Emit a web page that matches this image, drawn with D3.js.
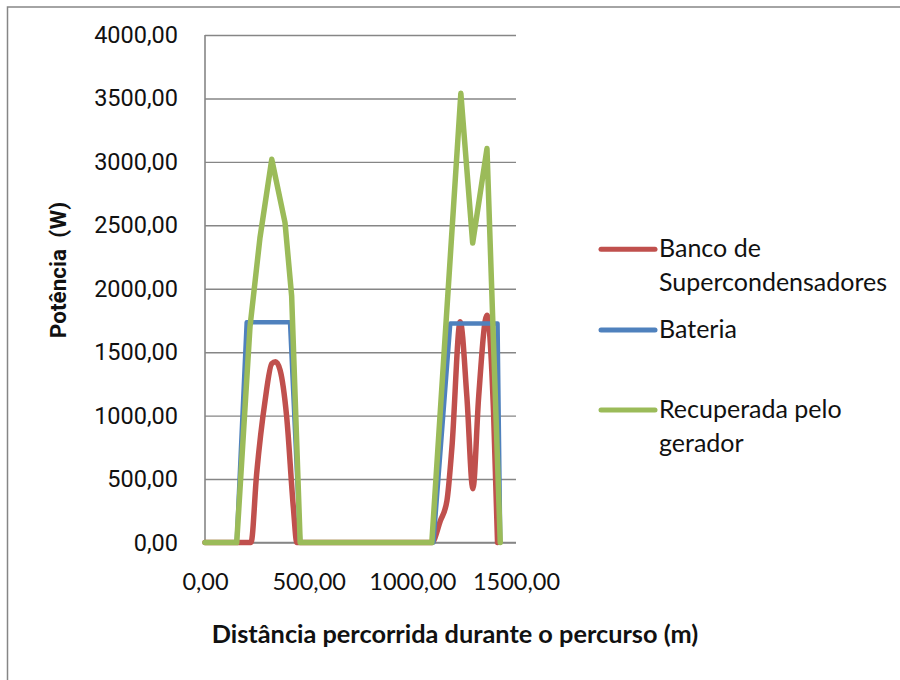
<!DOCTYPE html>
<html>
<head>
<meta charset="utf-8">
<script src="https://cdn.jsdelivr.net/npm/d3@7"></script>
<style>
  html, body { margin: 0; padding: 0; background: #fff; }
  svg { display: block; }
</style>
</head>
<body>
<svg id="chart" width="900" height="680"></svg>
<script>
// ---- data -------------------------------------------------------------
// Recuperada pelo gerador
const distGreen  = [0, 153, 217, 265, 322, 386, 418, 459, 1094, 1234, 1291, 1360, 1424];
const powerGreen = [0, 0, 1700, 2400, 3020, 2520, 1940, 0, 0, 3540, 2360, 3105, 0];

// Bateria
const distBlue  = [0, 153, 201, 410, 459, 1102, 1183, 1411, 1424];
const powerBlue = [0, 0, 1736, 1736, 0, 0, 1726, 1726, 0];

// Banco de Supercondensadores
const distRed  = [0, 153, 222, 249, 290, 322, 340, 362, 394, 426, 443, 1094, 1135, 1167, 1191, 1231, 1263, 1292, 1320, 1360, 1392, 1411];
const powerRed = [0, 0, 0, 540, 1120, 1410, 1425, 1360, 990, 280, 0, 0, 170, 330, 750, 1740, 1150, 424, 1150, 1792, 1016, 0];

const seriesNames  = ["Banco de Supercondensadores", "Bateria", "Recuperada pelo gerador"];
const legendLines  = [["Banco de", "Supercondensadores"], ["Bateria"], ["Recuperada pelo", "gerador"]];
const seriesColors = ["#C0504D", "#4F81BD", "#9BBB59"];

const xTicks = [0, 500, 1000, 1500];
const yTicks = [0, 500, 1000, 1500, 2000, 2500, 3000, 3500, 4000];

const xTitle = "Distância percorrida durante o percurso (m)";
const yTitle = "Potência  (W)";

// ---- layout -----------------------------------------------------------
const svg = d3.select("#chart");
const plot = { left: 205, right: 516, top: 35, bottom: 542.5 };

const x = d3.scaleLinear().domain([0, 1500]).range([plot.left, plot.right]);
const y = d3.scaleLinear().domain([0, 4000]).range([plot.bottom, plot.top]);

const ptLocale = d3.formatLocale({ decimal: ",", thousands: "", grouping: [3], currency: ["", ""] });
const fmt = ptLocale.format(".2f");

const gridColor = "#868686";

// outer frame of the chart area
svg.append("rect")
  .attr("x", 7.5).attr("y", 7)
  .attr("width", 1000).attr("height", 1000)
  .attr("fill", "none")
  .attr("stroke", gridColor)
  .attr("stroke-width", 1.5);

// horizontal gridlines + y tick labels
const yAxis = d3.axisLeft(y)
  .tickValues(yTicks)
  .tickSize(-(plot.right - plot.left))
  .tickPadding(27)
  .tickFormat(fmt);

const gy = svg.append("g")
  .attr("transform", `translate(${plot.left},0)`)
  .call(yAxis);
gy.select(".domain").remove();
gy.selectAll(".tick line").attr("stroke", gridColor).attr("stroke-width", 1.4);
gy.selectAll(".tick text")
  .attr("fill", "#111")
  .style("font-family", "Roboto, 'Noto Sans', sans-serif")
  .style("font-size", "23.5px");

// x tick labels (no gridlines)
const xAxis = d3.axisBottom(x)
  .tickValues(xTicks)
  .tickSize(0)
  .tickPadding(31)
  .tickFormat(fmt);

const gx = svg.append("g")
  .attr("transform", `translate(0,${plot.bottom})`)
  .call(xAxis);
gx.select(".domain").remove();
gx.selectAll(".tick text")
  .attr("fill", "#111")
  .style("font-family", "Lato, 'Open Sans', sans-serif")
  .style("font-size", "23.5px");

// axis lines
svg.append("line")
  .attr("x1", plot.left).attr("x2", plot.left)
  .attr("y1", plot.top).attr("y2", plot.bottom)
  .attr("stroke", gridColor).attr("stroke-width", 1.6);
svg.append("line")
  .attr("x1", plot.left).attr("x2", plot.right)
  .attr("y1", plot.bottom).attr("y2", plot.bottom)
  .attr("stroke", gridColor).attr("stroke-width", 1.6);

// ---- series -----------------------------------------------------------
const toPoints = (xs, ys) => xs.map((d, i) => [d, ys[i]]);
const straight = d3.line().x(d => x(d[0])).y(d => y(d[1]));
const smooth = d3.line().x(d => x(d[0])).y(d => y(d[1])).curve(d3.curveMonotoneX);

const series = [
  { pts: toPoints(distRed, powerRed), gen: smooth, width: 5.5 },
  { pts: toPoints(distBlue, powerBlue), gen: straight, width: 4.5 },
  { pts: toPoints(distGreen, powerGreen), gen: straight, width: 5.5 }
];

series.forEach((s, i) => {
  svg.append("path")
    .attr("d", s.gen(s.pts))
    .attr("fill", "none")
    .attr("stroke", seriesColors[i])
    .attr("stroke-width", s.width)
    .attr("stroke-linejoin", "round")
    .attr("stroke-linecap", "round");
});

// ---- legend -----------------------------------------------------------
const legendY = [249.3, 330, 410];
const legend = svg.append("g");
seriesNames.forEach((name, i) => {
  const g = legend.append("g").attr("aria-label", name);
  g.append("line")
    .attr("x1", 601).attr("x2", 655)
    .attr("y1", legendY[i]).attr("y2", legendY[i])
    .attr("stroke", seriesColors[i])
    .attr("stroke-width", 5)
    .attr("stroke-linecap", "round");
  const t = g.append("text")
    .attr("x", 659)
    .attr("y", legendY[i] + 8)
    .attr("fill", "#111")
    .style("font-family", "Lato, 'Open Sans', sans-serif")
    .style("font-size", "25px");
  legendLines[i].forEach((ln, j) => {
    t.append("tspan").attr("x", 659).attr("dy", j === 0 ? 0 : 33.5).text(ln);
  });
});

// ---- axis titles ------------------------------------------------------
svg.append("text")
  .attr("x", 455).attr("y", 643)
  .attr("text-anchor", "middle")
  .attr("fill", "#111")
  .style("font-family", "Lato, 'Open Sans', sans-serif")
  .style("font-weight", "bold")
  .style("font-size", "25.3px")
  .text(xTitle);

svg.append("text")
  .attr("transform", "translate(66,270) rotate(-90)")
  .attr("text-anchor", "middle")
  .attr("fill", "#111")
  .style("font-family", "Roboto, 'Noto Sans', sans-serif")
  .style("font-weight", "bold")
  .style("font-size", "22.5px")
  .style("white-space", "pre")
  .text(yTitle);
</script>
</body>
</html>
